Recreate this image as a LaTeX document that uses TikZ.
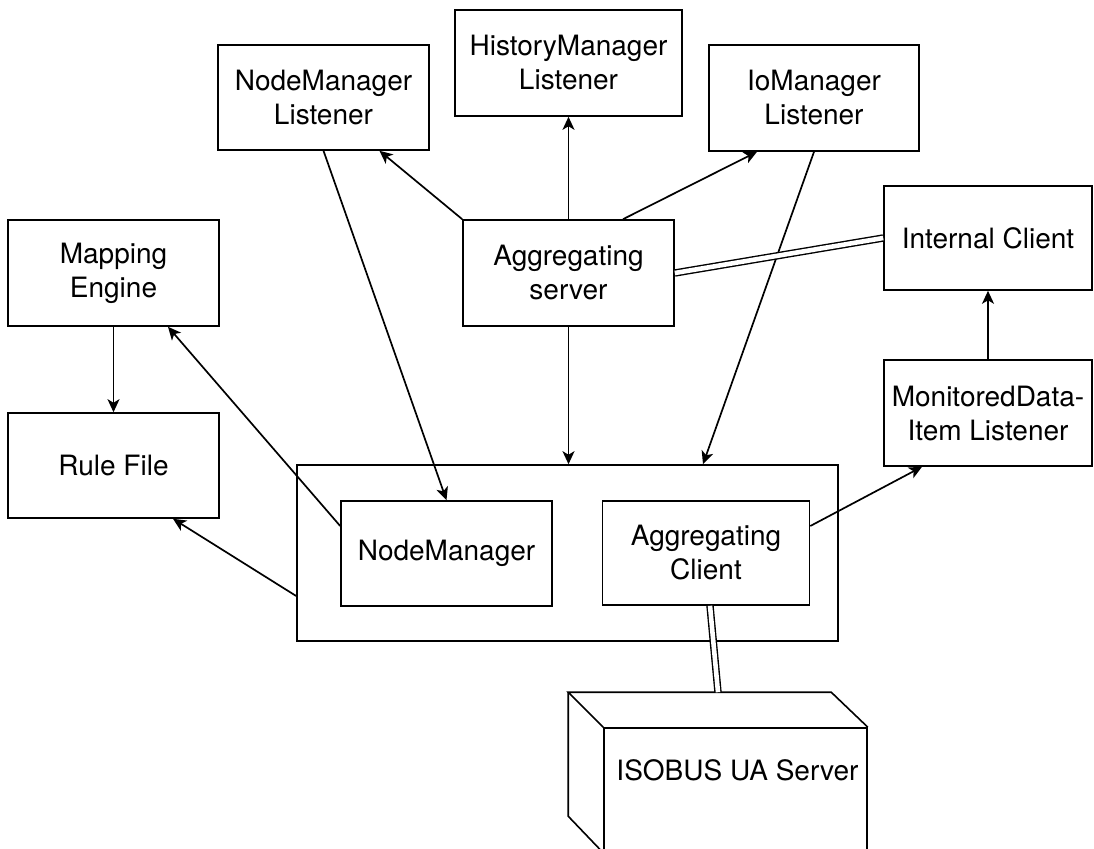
\documentclass[tikz,border=0pt]{standalone}
\usepackage{fontspec}
\setmainfont{TeX Gyre Heros}
\usetikzlibrary{arrows.meta,calc}
\begin{document}
\begin{tikzpicture}[x=1pt,y=-1pt,
  box/.style={draw, line width=1.6pt, rectangle, inner sep=0pt, align=center,
              font=\fontsize{28}{34}\selectfont},
  link/.style={line width=1.7pt, -{Stealth[length=13pt,width=12pt,inset=3.5pt]}},
  wire/.style={line width=1.4pt, double, double distance=4.6pt},
  edge3d/.style={line width=1.6pt, line join=miter}]
\useasboundingbox (0,0) rectangle (1094,848);
\clip (0,0) rectangle (1094,848);

% listeners along the top
\node[box, minimum width=211pt, minimum height=105pt] (nml) at (323.5,97.5) {NodeManager\\Listener};
\node[box, minimum width=227pt, minimum height=106pt] (hml) at (568.5,63) {HistoryManager\\Listener};
\node[box, minimum width=210pt, minimum height=106pt] (iml) at (814,98) {IoManager\\Listener};

% middle row
\node[box, minimum width=211pt, minimum height=106pt] (me) at (113.5,273) {Mapping\\Engine};
\node[box, minimum width=211pt, minimum height=106pt] (as) at (568.5,273) {Aggregating\\server};
\node[box, minimum width=208pt, minimum height=104pt] (ic) at (988,238) {Internal Client};
\node[box, minimum width=211pt, minimum height=105pt] (rf) at (113.5,465.5) {Rule File};
\node[box, minimum width=208pt, minimum height=106pt] (mdl) at (988,413) {MonitoredData-\\Item Listener};

% container with its two parts
\node[box, minimum width=541pt, minimum height=176pt] (cont) at (567.5,553) {};
\node[box, minimum width=211pt, minimum height=105pt] (nm) at (446.5,553.5) {NodeManager};
\node[box, minimum width=207pt, minimum height=104pt] (ac) at (706,553) {Aggregating\\Client};

% server drawn as a 3D box
\node[draw, line width=1.6pt, inner sep=0pt, minimum width=263pt, minimum height=124pt] (isobus) at (735.5,790) {};
\draw[edge3d] (isobus.north west) -- ++(-35,-35) -- ++(263,0) -- (isobus.north east);
\draw[edge3d] (isobus.north west) ++(-35,-35) -- ++(0,124) -- (isobus.south west);
\node[font=\fontsize{28}{34}\selectfont] (isobuslabel) at ([xshift=2pt,yshift=20pt]isobus.center) {ISOBUS UA Server};
\coordinate (isotop) at ([shift={(-17.5,-35)}]isobus.north);

% connectors
\draw[link] (nml.south) -- (nm.north);
\draw[link] (as.north west) -- ([xshift=56pt]nml.south);
\draw[link] (as.north) -- (hml.south);
\draw[link] ([xshift=54.5pt]as.north) -- ([xshift=-57pt]iml.south);
\draw[link] (iml.south) -- ([xshift=135.5pt]cont.north);
\draw[link] (as.south) -- (as.south |- cont.north);
\draw[link] ([yshift=27.5pt]nm.west) -- ([xshift=54.5pt]me.south);
\draw[link] ([yshift=-43pt]cont.west) -- ([xshift=59.5pt]rf.south);
\draw[link] (me.south) -- (rf.north);
\draw[link] ([yshift=27pt]ac.east) -- ([xshift=-66pt]mdl.south);
\draw[link] (mdl.north) -- (ic.south);
\draw[wire] (as.east) -- (ic.west);
\draw[wire] ([xshift=4pt]ac.south) -- (isotop);
\end{tikzpicture}
\end{document}
